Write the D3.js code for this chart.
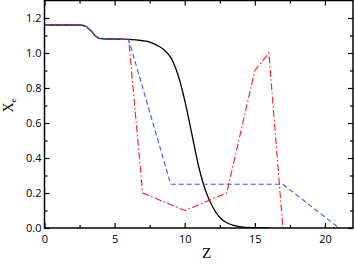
<!DOCTYPE html>
<html>
<head>
<meta charset="utf-8">
<script src="https://cdn.jsdelivr.net/npm/d3@7"></script>
<style>
  body { margin: 0; background: #fff; }
  svg { display: block; font-family: "Open Sans", "DejaVu Sans", sans-serif; }
</style>
</head>
<body>
<div id="chart"></div>
<script>
// black solid curve
const blackZ = [0, 2.5, 2.8, 3.0, 3.2, 3.4, 3.6, 3.8, 4.0, 4.5, 5, 6, 7, 7.5, 8, 8.5, 9, 9.5, 10, 10.5, 11, 11.5, 12, 12.5, 13, 13.5, 14, 15, 16];
const blackX = [1.16, 1.16, 1.157, 1.15, 1.135, 1.12, 1.10, 1.088, 1.082, 1.08, 1.08, 1.078, 1.07, 1.062, 1.045, 1.02, 0.975, 0.88, 0.73, 0.54, 0.35, 0.21, 0.12, 0.06, 0.03, 0.015, 0.007, 0.002, 0.0];

// red dash-dot: follows the black curve up to z=6
const redZ = [6, 7, 10, 13, 15, 16, 17];
const redX = [1.078, 0.2, 0.1, 0.2, 0.9, 1.0, 0.0];

// blue dashed
const blueZ = [6, 9, 17, 21];
const blueX = [1.078, 0.25, 0.25, 0.0];

const xTicks = [0, 5, 10, 15, 20];
const yTicks = [0, 0.2, 0.4, 0.6, 0.8, 1.0, 1.2];

const width = 354, height = 265;
const marginLeft = 44.5, marginRight = 1, marginTop = 0.5, marginBottom = 37;

const svg = d3.select("#chart").append("svg")
    .attr("width", width)
    .attr("height", height)
    .attr("viewBox", [0, 0, width, height]);

const x = d3.scaleLinear([0, 22], [marginLeft, width - marginRight]);
const y = d3.scaleLinear([0, 1.3], [height - marginBottom, marginTop]);

const plotH = height - marginBottom - marginTop;
const plotW = width - marginRight - marginLeft;

// clip so curves don't poke out of the frame
svg.append("clipPath").attr("id", "clip")
  .append("rect")
    .attr("x", marginLeft).attr("y", marginTop)
    .attr("width", plotW).attr("height", plotH);

const line = d3.line()
    .x(d => x(d[0]))
    .y(d => y(d[1]));

const lines = svg.append("g").attr("clip-path", "url(#clip)").attr("fill", "none");

// head of the coloured curves shares the black curve
const head = d3.range(blackZ.length).filter(i => blackZ[i] <= 6).map(i => [blackZ[i], blackX[i]]);

lines.append("path")
    .attr("d", line.curve(d3.curveMonotoneX)(blackZ.map((z, i) => [z, blackX[i]])))
    .attr("stroke", "#000")
    .attr("stroke-width", 1.3);

lines.append("path")
    .attr("d", line.curve(d3.curveLinear)(head.concat(redZ.map((z, i) => [z, redX[i]]))))
    .attr("stroke", "#ff1a1a")
    .attr("stroke-width", 1.1)
    .attr("stroke-dasharray", "7,2.5,1.5,2.5");

lines.append("path")
    .attr("d", line.curve(d3.curveLinear)(head.concat(blueZ.map((z, i) => [z, blueX[i]]))))
    .attr("stroke", "#3358f0")
    .attr("stroke-width", 1.1)
    .attr("stroke-dasharray", "5,3");

// axes, ticks inward on all four sides
const xMinor = d3.range(0, 22.01, 2.5).filter(v => !xTicks.includes(v));
const yMinor = d3.range(0.1, 1.3, 0.2).map(v => +v.toFixed(1));

const styleAxis = g => {
  g.select(".domain").remove();
  g.selectAll(".tick line").attr("stroke", "#000").attr("stroke-width", 1.2);
  g.selectAll(".tick text").attr("font-size", 11).attr("fill", "#000").attr("font-family", "'Open Sans', sans-serif");
};

svg.append("g")
    .attr("transform", `translate(0,${height - marginBottom})`)
    .call(d3.axisBottom(x).tickValues(xTicks).tickFormat(d3.format("d")).tickSizeInner(-5).tickSizeOuter(0).tickPadding(7))
    .call(styleAxis);
svg.append("g")
    .attr("transform", `translate(0,${height - marginBottom})`)
    .call(d3.axisBottom(x).tickValues(xMinor).tickFormat("").tickSizeInner(-3).tickSizeOuter(0))
    .call(styleAxis);
svg.append("g")
    .attr("transform", `translate(0,${marginTop})`)
    .call(d3.axisTop(x).tickValues(xTicks).tickFormat("").tickSizeInner(-5).tickSizeOuter(0))
    .call(styleAxis);
svg.append("g")
    .attr("transform", `translate(0,${marginTop})`)
    .call(d3.axisTop(x).tickValues(xMinor).tickFormat("").tickSizeInner(-3).tickSizeOuter(0))
    .call(styleAxis);

svg.append("g")
    .attr("transform", `translate(${marginLeft},0)`)
    .call(d3.axisLeft(y).tickValues(yTicks).tickFormat(d3.format(".1f")).tickSizeInner(-5).tickSizeOuter(0).tickPadding(3))
    .call(styleAxis);
svg.append("g")
    .attr("transform", `translate(${marginLeft},0)`)
    .call(d3.axisLeft(y).tickValues(yMinor).tickFormat("").tickSizeInner(-3).tickSizeOuter(0))
    .call(styleAxis);
svg.append("g")
    .attr("transform", `translate(${width - marginRight},0)`)
    .call(d3.axisRight(y).tickValues(yTicks).tickFormat("").tickSizeInner(-5).tickSizeOuter(0))
    .call(styleAxis);
svg.append("g")
    .attr("transform", `translate(${width - marginRight},0)`)
    .call(d3.axisRight(y).tickValues(yMinor).tickFormat("").tickSizeInner(-3).tickSizeOuter(0))
    .call(styleAxis);

// frame
svg.append("rect")
    .attr("x", marginLeft).attr("y", marginTop)
    .attr("width", plotW).attr("height", plotH)
    .attr("fill", "none")
    .attr("stroke", "#000")
    .attr("stroke-width", 1.5);

// axis titles
svg.append("text")
    .attr("x", x(11.55))
    .attr("y", 258)
    .attr("text-anchor", "middle")
    .attr("font-family", "'Liberation Serif', serif")
    .attr("font-size", 15)
    .text("Z");

const yl = svg.append("text")
    .attr("transform", `translate(12.5,${y(0.7)}) rotate(-90)`)
    .attr("text-anchor", "middle")
    .attr("font-family", "'Liberation Serif', serif")
    .attr("font-size", 14);
yl.append("tspan").text("X");
yl.append("tspan").attr("font-size", 9).attr("dy", 3).text("e");
</script>
</body>
</html>
